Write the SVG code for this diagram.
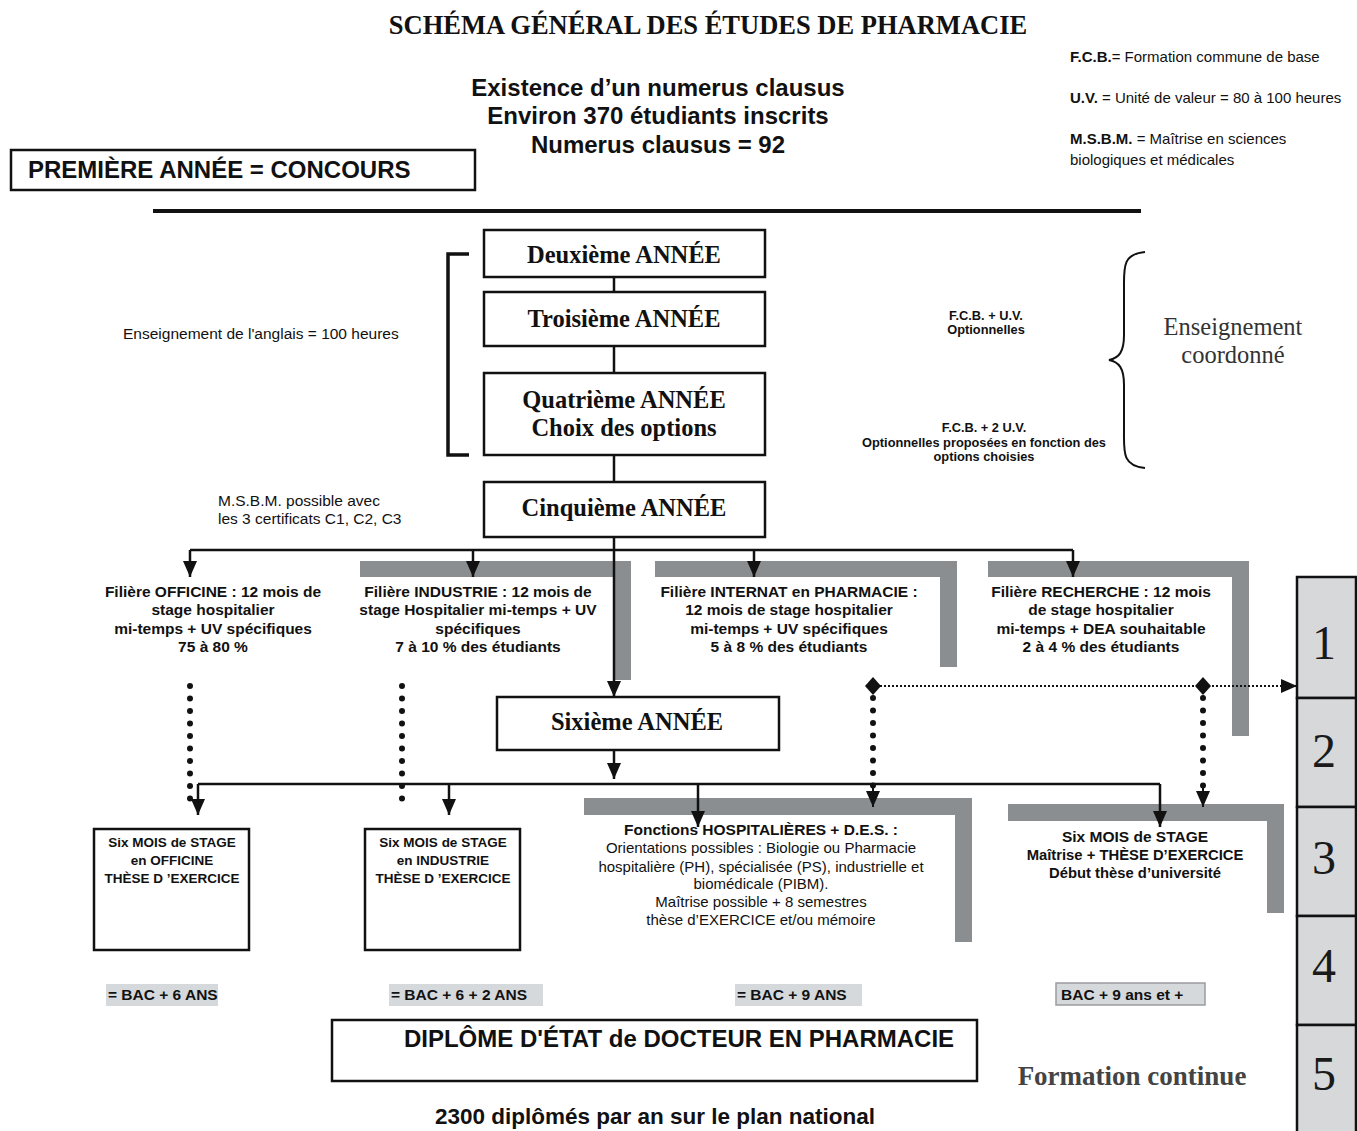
<svg xmlns="http://www.w3.org/2000/svg" width="1357" height="1131" viewBox="0 0 1357 1131">
<defs>
<style>
.bg{fill:#ffffff}
.box{fill:#ffffff;stroke:#111;stroke-width:2.5}
.ln{fill:none;stroke:#111;stroke-width:2.5}
.arr{fill:none;stroke:#111;stroke-width:2.5;marker-end:url(#ah)}
.bar{fill:#8b8e90}
.lbl{fill:#d6d9dc}
.dots{fill:none;stroke:#111;stroke-width:6;stroke-linecap:round;stroke-dasharray:0 12.5}
.serifB{font-family:"Liberation Serif","Times New Roman",serif;font-weight:bold;fill:#111}
.sansB{font-family:"Liberation Sans",Arial,sans-serif;font-weight:bold;fill:#111}
.sans{font-family:"Liberation Sans",Arial,sans-serif;fill:#111}
.fil{font-family:"Liberation Sans",Arial,sans-serif;font-weight:bold;font-size:15.5px;fill:#111;text-anchor:middle}
.stg{font-family:"Liberation Sans",Arial,sans-serif;font-weight:bold;font-size:13.5px;fill:#111;text-anchor:middle}
.yr{font-family:"Liberation Serif","Times New Roman",serif;font-weight:bold;font-size:24.5px;fill:#111;text-anchor:middle}
.bac{font-family:"Liberation Sans",Arial,sans-serif;font-weight:bold;font-size:15.5px;fill:#111}
.num{font-family:"Liberation Serif","Times New Roman",serif;font-size:48px;fill:#1a1a1a;text-anchor:middle}
.cell{fill:#d6d8da;stroke:#111;stroke-width:2.5}
</style>
<marker id="ah" viewBox="0 0 16 14" refX="16" refY="7" markerWidth="16" markerHeight="14" markerUnits="userSpaceOnUse" orient="auto">
<path d="M0,0 L16,7 L0,14 z" fill="#111"/>
</marker>
</defs>
<rect class="bg" x="0" y="0" width="1357" height="1131"/>

<g id="title">
<text class="serifB" x="708" y="34" font-size="26.5" text-anchor="middle">SCHÉMA GÉNÉRAL DES ÉTUDES DE PHARMACIE</text>
</g>

<g id="numerus">
<text class="sansB" x="658" y="96" font-size="24" text-anchor="middle">Existence d’un numerus clausus</text>
<text class="sansB" x="658" y="124" font-size="24" text-anchor="middle">Environ 370 étudiants inscrits</text>
<text class="sansB" x="658" y="153" font-size="24" text-anchor="middle">Numerus clausus = 92</text>
</g>

<g id="legend" font-size="15">
<text class="sans" x="1070" y="62"><tspan font-weight="bold">F.C.B.</tspan>= Formation commune de base</text>
<text class="sans" x="1070" y="103"><tspan font-weight="bold">U.V.</tspan> = Unité de valeur = 80 à 100 heures</text>
<text class="sans" x="1070" y="144"><tspan font-weight="bold">M.S.B.M.</tspan> = Maîtrise en sciences</text>
<text class="sans" x="1070" y="165">biologiques et médicales</text>
</g>

<g id="premiere">
<rect class="box" x="11" y="150" width="464" height="40"/>
<text class="sansB" x="28" y="178" font-size="24">PREMIÈRE ANNÉE = CONCOURS</text>
</g>

<g id="separator">
<line x1="153" y1="211" x2="1141" y2="211" stroke="#111" stroke-width="4"/>
</g>

<g id="bracket">
<path d="M469,254 H448 V455 H469" fill="none" stroke="#111" stroke-width="3.5"/>
<text class="sans" x="123" y="339" font-size="15.5">Enseignement de l'anglais = 100 heures</text>
</g>

<g id="deuxieme">
<rect class="box" x="484" y="230" width="281" height="47"/>
<text class="yr" x="624" y="263">Deuxième ANNÉE</text>
</g>
<g id="troisieme">
<rect class="box" x="484" y="292" width="281" height="54"/>
<text class="yr" x="624" y="327">Troisième ANNÉE</text>
</g>
<g id="quatrieme">
<rect class="box" x="484" y="373" width="281" height="82"/>
<text class="yr" x="624" y="408">Quatrième ANNÉE</text>
<text class="yr" x="624" y="436">Choix des options</text>
</g>
<g id="cinquieme">
<rect class="box" x="484" y="482" width="281" height="55"/>
<text class="yr" x="624" y="516">Cinquième ANNÉE</text>
</g>

<g id="msbm">
<text class="sans" x="218" y="506" font-size="15.5">M.S.B.M. possible avec</text>
<text class="sans" x="218" y="524" font-size="15.5">les 3 certificats C1, C2, C3</text>
</g>

<g id="fcb-notes" font-size="12.8">
<text class="sansB" x="986" y="320" text-anchor="middle">F.C.B. + U.V.</text>
<text class="sansB" x="986" y="334" text-anchor="middle">Optionnelles</text>
<text class="sansB" x="984" y="432" text-anchor="middle">F.C.B. + 2 U.V.</text>
<text class="sansB" x="984" y="447" text-anchor="middle">Optionnelles proposées en fonction des</text>
<text class="sansB" x="984" y="461" text-anchor="middle">options choisies</text>
</g>

<g id="coordonne">
<path d="M1145,252 C1122,254 1124,268 1124,290 L1124,335 C1124,352 1119,358 1109,360 C1119,362 1124,368 1124,385 L1124,430 C1124,452 1122,466 1145,468" fill="none" stroke="#111" stroke-width="2"/>
<text x="1233" y="335" font-family="'Liberation Serif','Times New Roman',serif" font-size="24.5" fill="#333" text-anchor="middle">Enseignement</text>
<text x="1233" y="363" font-family="'Liberation Serif','Times New Roman',serif" font-size="24.5" fill="#333" text-anchor="middle">coordonné</text>
</g>

<g id="bars">
<path class="bar" d="M360,561 H631 V680 H614 V577 H360 Z"/>
<path class="bar" d="M655,561 H957 V667 H940 V577 H655 Z"/>
<path class="bar" d="M988,561 H1249 V736 H1232 V577 H988 Z"/>
<path class="bar" d="M584,798 H972 V942 H955 V815 H584 Z"/>
<path class="bar" d="M1008,804 H1284 V913 H1267 V821 H1008 Z"/>
</g>

<g id="connectors">
<line class="ln" x1="614" y1="277" x2="614" y2="292"/>
<line class="ln" x1="614" y1="346" x2="614" y2="373"/>
<line class="ln" x1="614" y1="455" x2="614" y2="482"/>
<line class="ln" x1="190" y1="550" x2="1073" y2="550"/>
<path class="arr" d="M190,550 V577"/>
<path class="arr" d="M473,550 V577"/>
<path class="arr" d="M754,550 V577"/>
<path class="arr" d="M1073,550 V577"/>
<path class="arr" d="M614,537 V697"/>
<path class="arr" d="M614,750 V779"/>
<line class="ln" x1="198" y1="784" x2="1160" y2="784"/>
<path class="arr" d="M198,784 V815"/>
<path class="arr" d="M449,784 V815"/>
<path class="arr" d="M698,784 V827"/>
<path class="arr" d="M1160,784 V827"/>
<path class="dots" d="M190,686 V804"/>
<path class="dots" d="M402,686 V804"/>
<path class="dots" d="M873,698 V786"/>
<path class="dots" d="M1203,698 V786"/>
<path d="M873,788 V807" fill="none" stroke="#111" stroke-width="2" marker-end="url(#ah)"/>
<path d="M1203,788 V807" fill="none" stroke="#111" stroke-width="2" marker-end="url(#ah)"/>
<path d="M880,686 H1282" fill="none" stroke="#111" stroke-width="2" stroke-dasharray="2 2"/>
<path d="M1282,686 H1297" fill="none" stroke="#111" stroke-width="2" marker-end="url(#ah)"/>
<path d="M873,677 L881,686 L873,695 L865,686 Z" fill="#111"/>
<path d="M1203,677 L1211,686 L1203,695 L1195,686 Z" fill="#111"/>
</g>

<g id="filiere-officine">
<text class="fil" x="213" y="597">Filière OFFICINE : 12 mois de</text>
<text class="fil" x="213" y="615">stage hospitalier</text>
<text class="fil" x="213" y="634">mi-temps + UV spécifiques</text>
<text class="fil" x="213" y="652">75 à 80 %</text>
</g>
<g id="filiere-industrie">
<text class="fil" x="478" y="597">Filière INDUSTRIE : 12 mois de</text>
<text class="fil" x="478" y="615">stage Hospitalier mi-temps + UV</text>
<text class="fil" x="478" y="634">spécifiques</text>
<text class="fil" x="478" y="652">7 à 10 % des étudiants</text>
</g>
<g id="filiere-internat">
<text class="fil" x="789" y="597">Filière INTERNAT en PHARMACIE :</text>
<text class="fil" x="789" y="615">12 mois de stage hospitalier</text>
<text class="fil" x="789" y="634">mi-temps + UV spécifiques</text>
<text class="fil" x="789" y="652">5 à 8 % des étudiants</text>
</g>
<g id="filiere-recherche">
<text class="fil" x="1101" y="597">Filière RECHERCHE : 12 mois</text>
<text class="fil" x="1101" y="615">de stage hospitalier</text>
<text class="fil" x="1101" y="634">mi-temps + DEA souhaitable</text>
<text class="fil" x="1101" y="652">2 à 4 % des étudiants</text>
</g>

<g id="sixieme">
<rect class="box" x="497" y="697" width="282" height="53"/>
<text class="yr" x="637" y="730">Sixième ANNÉE</text>
</g>

<g id="stage-officine">
<rect class="box" x="94" y="829" width="155" height="121"/>
<text class="stg" x="172" y="847">Six MOIS de STAGE</text>
<text class="stg" x="172" y="865">en OFFICINE</text>
<text class="stg" x="172" y="883">THÈSE D ’EXERCICE</text>
</g>
<g id="stage-industrie">
<rect class="box" x="365" y="829" width="155" height="121"/>
<text class="stg" x="443" y="847">Six MOIS de STAGE</text>
<text class="stg" x="443" y="865">en INDUSTRIE</text>
<text class="stg" x="443" y="883">THÈSE D ’EXERCICE</text>
</g>
<g id="hospitalieres">
<text class="fil" x="761" y="835">Fonctions HOSPITALIÈRES + D.E.S. :</text>
<text class="sans" x="761" y="853" font-size="15" text-anchor="middle">Orientations possibles : Biologie ou Pharmacie</text>
<text class="sans" x="761" y="872" font-size="15" text-anchor="middle">hospitalière (PH), spécialisée (PS), industrielle et</text>
<text class="sans" x="761" y="889" font-size="15" text-anchor="middle">biomédicale (PIBM).</text>
<text class="sans" x="761" y="907" font-size="15" text-anchor="middle">Maîtrise possible + 8 semestres</text>
<text class="sans" x="761" y="925" font-size="15" text-anchor="middle">thèse d’EXERCICE et/ou mémoire</text>
</g>
<g id="stage-recherche">
<text class="fil" x="1135" y="842" font-size="14.8">Six MOIS de STAGE</text>
<text class="fil" x="1135" y="860" style="font-size:14.8px">Maîtrise + THÈSE D’EXERCICE</text>
<text class="fil" x="1135" y="878" style="font-size:14.8px">Début thèse d’université</text>
</g>

<g id="bac-labels">
<rect class="lbl" x="106" y="984" width="112" height="22"/>
<text class="bac" x="108" y="1000">= BAC + 6 ANS</text>
<rect class="lbl" x="389" y="984" width="154" height="22"/>
<text class="bac" x="391" y="1000">= BAC + 6 + 2 ANS</text>
<rect class="lbl" x="735" y="984" width="127" height="22"/>
<text class="bac" x="737" y="1000">= BAC + 9 ANS</text>
<rect class="lbl" x="1056" y="983" width="149" height="22" stroke="#9a9c9e" stroke-width="1.5"/>
<text class="bac" x="1061" y="1000">BAC + 9 ans et +</text>
</g>

<g id="diplome">
<rect class="box" x="332" y="1020" width="645" height="61"/>
<text class="sansB" x="679" y="1047" font-size="24" text-anchor="middle">DIPLÔME D'ÉTAT de DOCTEUR EN PHARMACIE</text>
</g>
<g id="diplomes-nb">
<text class="sansB" x="655" y="1124" font-size="22.5" text-anchor="middle">2300 diplômés par an sur le plan national</text>
</g>
<g id="formation-continue">
<text x="1132" y="1085" font-family="'Liberation Serif','Times New Roman',serif" font-weight="bold" font-size="27" fill="#444" text-anchor="middle">Formation continue</text>
</g>

<g id="years-column">
<rect class="cell" x="1297" y="577" width="59" height="121"/>
<rect class="cell" x="1297" y="698" width="59" height="109"/>
<rect class="cell" x="1297" y="807" width="59" height="109"/>
<rect class="cell" x="1297" y="916" width="59" height="109"/>
<rect class="cell" x="1297" y="1025" width="59" height="120"/>
<text class="num" x="1324" y="659">1</text>
<text class="num" x="1324" y="767">2</text>
<text class="num" x="1324" y="874">3</text>
<text class="num" x="1324" y="982">4</text>
<text class="num" x="1324" y="1090">5</text>
</g>
</svg>
